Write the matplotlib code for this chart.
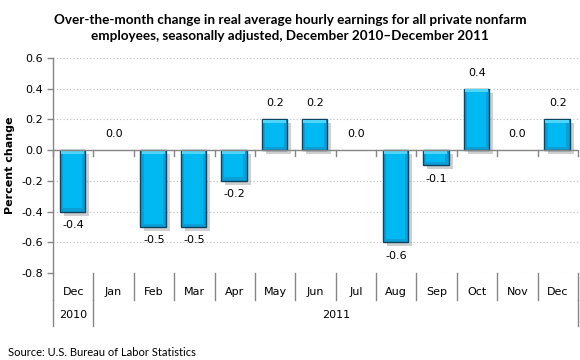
import matplotlib
matplotlib.use("Agg")
import matplotlib.pyplot as plt
import matplotlib.transforms as mtransforms
from matplotlib.patches import Rectangle

months = ["Dec", "Jan", "Feb", "Mar", "Apr", "May", "Jun", "Jul", "Aug", "Sep", "Oct", "Nov", "Dec"]
years = ["2010", "2011"]
year_spans = [(0, 0), (1, 12)]
values = [-0.4, 0.0, -0.5, -0.5, -0.2, 0.2, 0.2, 0.0, -0.6, -0.1, 0.4, 0.0, 0.2]
yticks = [0.6, 0.4, 0.2, 0.0, -0.2, -0.4, -0.6, -0.8]

title = "Over-the-month change in real average hourly earnings for all private nonfarm\nemployees, seasonally adjusted, December 2010\u2013December 2011"
ylabel = "Percent change"
source = "Source: U.S. Bureau of Labor Statistics"

W, H = 580, 360
fig = plt.figure(figsize=(W / 100, H / 100), dpi=100)
fig.patch.set_facecolor("white")
left, right, top, bottom = 53, 578, 58, 273
ax = fig.add_axes([left / W, 1 - bottom / H, (right - left) / W, (bottom - top) / H])

n = len(months)
ax.set_xlim(-0.5, n - 0.5)
ax.set_ylim(-0.8, 0.6)

# grid
for t in yticks:
    if t != 0.0:
        ax.axhline(t, color="#bdbdbd", lw=0.8, ls=(0, (1, 2)), zorder=0)

# bars
bw = 0.63
xs = list(range(n))
shadow_tr = mtransforms.offset_copy(ax.transData, fig=fig, x=4, y=-4, units="dots")
for x, v in zip(xs, values):
    if v == 0:
        continue
    bx = x - bw / 2 - 0.02
    y0 = min(0, v)
    h = abs(v)
    ax.add_patch(Rectangle((bx, y0), bw, h, transform=shadow_tr, facecolor="#a0a0a0",
                           edgecolor="none", alpha=0.5, zorder=2))
    ax.add_patch(Rectangle((bx, y0), bw, h, facecolor="#0a9fd6", edgecolor="#0d4560",
                           lw=1.0, zorder=3))
    ix = 0.08
    iy = 0.022
    if h > 2 * iy:
        ax.add_patch(Rectangle((bx + ix, y0 + iy), bw - 2 * ix, h - 2 * iy,
                               facecolor="#00b8f2", edgecolor="none", zorder=4))
        ax.add_patch(Rectangle((bx + 0.03, y0 + h - iy), bw - 0.06, iy * 0.8,
                               facecolor="#4fd4fb", edgecolor="none", zorder=4))

# value labels
for x, v in zip(xs, values):
    if v >= 0:
        ax.annotate(f"{v:.1f}", (x, v), xytext=(0, 8), textcoords="offset points",
                    ha="center", va="bottom", fontsize=8, family="DejaVu Sans", color="black")
    else:
        ax.annotate(f"{v:.1f}", (x, v), xytext=(0, -6), textcoords="offset points",
                    ha="center", va="top", fontsize=8, family="DejaVu Sans", color="black")

# axes styling
for s in ["top", "right", "bottom"]:
    ax.spines[s].set_visible(False)
ax.spines["left"].set_color("#868686")
ax.spines["left"].set_linewidth(1.0)
ax.set_yticks(yticks)
ax.set_yticklabels([f"{t:.1f}" for t in yticks], fontsize=8, family="DejaVu Sans")
ax.tick_params(axis="y", length=4, color="#868686", width=1.0, pad=3)
ax.set_xticks([])

# zero category axis
ax.axhline(0, color="#868686", lw=1.0, zorder=5)
for i in range(n + 1):
    ax.plot([i - 0.5, i - 0.5], [0, -0.035], color="#868686", lw=1.0, zorder=5, clip_on=False)

# category labels below
bt = mtransforms.blended_transform_factory(ax.transData, fig.transFigure)
row1 = 1 - 300 / H
row2 = 1 - 326 / H
axb = 1 - bottom / H
for i in range(n + 1):
    ax.plot([i - 0.5, i - 0.5], [axb, row1], transform=bt, color="#868686", lw=1.0, clip_on=False)
for i, m in enumerate(months):
    ax.text(i, 1 - 292 / H, m, transform=bt, ha="center", va="center", fontsize=8,
            family="DejaVu Sans")
for (a, b), yr in zip(year_spans, years):
    ax.text((a + b) / 2, 1 - 315 / H, yr, transform=bt, ha="center", va="center", fontsize=8,
            family="DejaVu Sans")
for edge in [-0.5, 0.5, n - 0.5]:
    ax.plot([edge, edge], [row1, row2], transform=bt, color="#868686", lw=1.0, clip_on=False)

fig.text(10 / W, 1 - 165 / H, ylabel, rotation=90, ha="center", va="center", fontsize=8,
         fontweight="bold", family="DejaVu Sans")

fig.text(290 / W, 1 - 28 / H, title, ha="center", va="center", fontsize=9.7, fontweight="bold",
         family="Lato", linespacing=1.5)
fig.text(8 / W, 1 - 352 / H, source, ha="left", va="center", fontsize=8, family="Lato")

fig.savefig("out.png", dpi=100, facecolor="white")
